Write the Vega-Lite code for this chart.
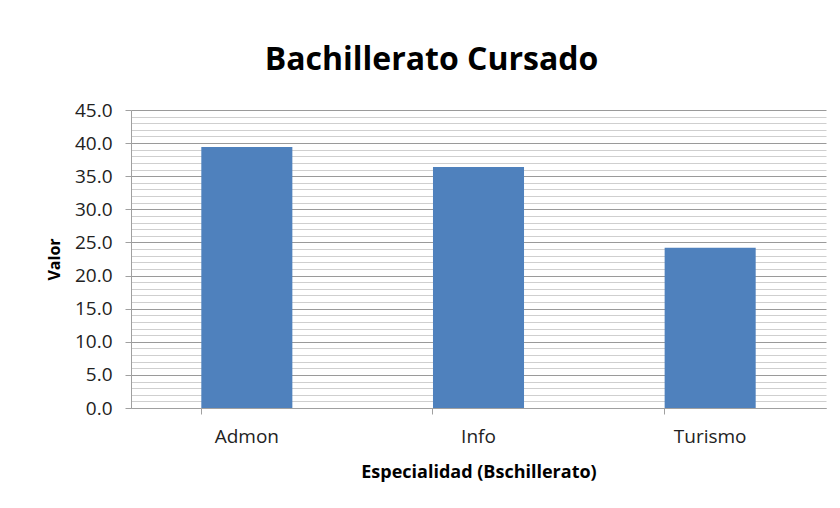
{
  "$schema": "https://vega.github.io/schema/vega-lite/v6.json",
  "width": 695,
  "height": 298,
  "autosize": {"type": "none"},
  "padding": {"left": 131, "top": 110, "right": 14, "bottom": 100},
  "background": "white",
  "title": {
    "text": "Bachillerato Cursado",
    "font": "Open Sans",
    "fontSize": 32,
    "fontWeight": "bold",
    "color": "#000000",
    "dx": -47,
    "offset": 24
  },
  "data": {
    "values": [
      {"Especialidad": "Admon", "Valor": 39.4},
      {"Especialidad": "Info", "Valor": 36.4},
      {"Especialidad": "Turismo", "Valor": 24.2}
    ]
  },
  "mark": {"type": "bar", "color": "#4F81BD"},
  "encoding": {
    "x": {
      "field": "Especialidad",
      "type": "nominal",
      "sort": null,
      "scale": {"paddingInner": 0.607, "paddingOuter": 0.3035},
      "axis": {
        "title": "Especialidad (Bschillerato)",
        "labelAngle": 0,
        "bandPosition": 0,
        "tickSize": 6,
        "tickColor": "#a0a0a0",
        "domainColor": "#a0a0a0",
        "labelFont": "Open Sans",
        "labelFontSize": 19,
        "labelColor": "#222222",
        "labelPadding": 13,
        "titleFont": "Open Sans",
        "titleFontSize": 18,
        "titleFontWeight": "bold",
        "titleColor": "#000000",
        "titlePadding": 17
      }
    },
    "y": {
      "field": "Valor",
      "type": "quantitative",
      "scale": {"domain": [0, 45], "nice": false},
      "axis": {
        "title": "Valor",
        "values": [0,1,2,3,4,5,6,7,8,9,10,11,12,13,14,15,16,17,18,19,20,21,22,23,24,25,26,27,28,29,30,31,32,33,34,35,36,37,38,39,40,41,42,43,44,45],
        "labelExpr": "datum.value % 5 === 0 ? format(datum.value, '.1f') : ''",
        "grid": true,
        "gridColor": {"condition": {"test": "datum.value % 5 === 0", "value": "#9a9a9a"}, "value": "#cfcfcf"},
        "gridWidth": 1,
        "tickSize": 6,
        "tickColor": {"condition": {"test": "datum.value % 5 === 0", "value": "#a0a0a0"}, "value": "rgba(0,0,0,0)"},
        "domainColor": "#a0a0a0",
        "labelFont": "Open Sans",
        "labelFontSize": 19,
        "labelColor": "#222222",
        "labelPadding": 13,
        "titleFont": "Open Sans",
        "titleFontSize": 16,
        "titleFontWeight": "bold",
        "titleColor": "#000000",
        "titlePadding": 12
      }
    }
  },
  "config": {
    "view": {"stroke": null}
  }
}
